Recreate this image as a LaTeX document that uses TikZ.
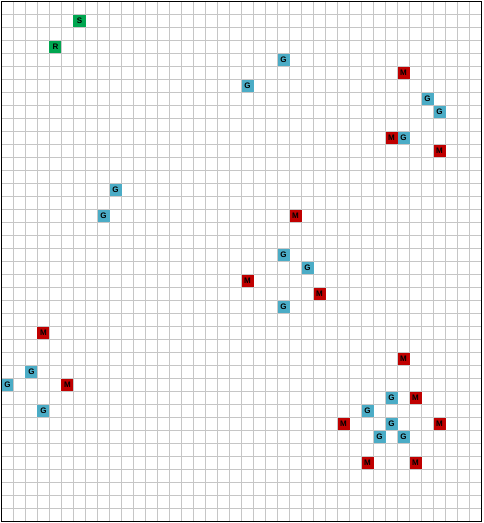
\documentclass[tikz,border=0pt]{standalone}
\usepackage{fontspec}
\setmainfont{Liberation Sans}
\usepackage{tikz}
\definecolor{cellGreen}{RGB}{0,166,80}
\definecolor{cellBlue}{RGB}{75,172,198}
\definecolor{cellRed}{RGB}{192,0,0}
\tikzset{
    cellMark/.style={
        rectangle,
        inner sep=0pt,
        minimum width=12pt,
        minimum height=12.5pt,
        font=\fontsize{8}{8}\selectfont\bfseries
    },
    startCell/.style={cellMark, fill=cellGreen},
    goalCell/.style={cellMark, fill=cellBlue},
    mineCell/.style={cellMark, fill=cellRed}
}

\begin{document}
\begin{tikzpicture}[x=12pt, y=13pt]
            % Canvas
            \useasboundingbox (-1.5pt,-1.5pt) rectangle (481.5pt,521.5pt);
            \fill[white] (-1.5pt,-1.5pt) rectangle (481.5pt,521.5pt);
            
            % Grid
            \draw[gray!45, line width=0.6pt, xstep=12pt, ystep=13pt] (0,0) grid (40,40);
            
            % Start and robot
            \node[startCell] (S) at (6.5,38.5) {S};
            \node[startCell] (R) at (4.5,36.5) {R};
            
            % Upper right
            \node[goalCell] (G1) at (23.5,35.5) {G};
            \node[mineCell] (M1) at (33.5,34.5) {M};
            \node[goalCell] (G2) at (20.5,33.5) {G};
            \node[goalCell] (G3) at (35.5,32.5) {G};
            \node[goalCell] (G4) at (36.5,31.5) {G};
            \node[mineCell] (M2) at (32.5,29.5) {M};
            \node[goalCell] (G5) at (33.5,29.5) {G};
            \node[mineCell] (M3) at (36.5,28.5) {M};
            
            % Middle
            \node[goalCell] (G6) at (9.5,25.5) {G};
            \node[goalCell] (G7) at (8.5,23.5) {G};
            \node[mineCell] (M4) at (24.5,23.5) {M};
            \node[goalCell] (G8) at (23.5,20.5) {G};
            \node[goalCell] (G9) at (25.5,19.5) {G};
            \node[mineCell] (M5) at (20.5,18.5) {M};
            \node[mineCell] (M6) at (26.5,17.5) {M};
            \node[goalCell] (G10) at (23.5,16.5) {G};
            
            % Lower left
            \node[mineCell] (M7) at (3.5,14.5) {M};
            \node[goalCell] (G11) at (2.5,11.5) {G};
            \node[goalCell] (G12) at (0.5,10.5) {G};
            \node[mineCell] (M8) at (5.5,10.5) {M};
            \node[goalCell] (G13) at (3.5,8.5) {G};
            
            % Lower right
            \node[mineCell] (M9) at (33.5,12.5) {M};
            \node[goalCell] (G14) at (32.5,9.5) {G};
            \node[mineCell] (M10) at (34.5,9.5) {M};
            \node[goalCell] (G15) at (30.5,8.5) {G};
            \node[mineCell] (M11) at (28.5,7.5) {M};
            \node[goalCell] (G16) at (32.5,7.5) {G};
            \node[mineCell] (M12) at (36.5,7.5) {M};
            \node[goalCell] (G17) at (31.5,6.5) {G};
            \node[goalCell] (G18) at (33.5,6.5) {G};
            \node[mineCell] (M13) at (30.5,4.5) {M};
            \node[mineCell] (M14) at (34.5,4.5) {M};
            
            % Border
            \draw[black, line width=1.5pt] (0,0) rectangle (40,40);
        \end{tikzpicture}
\end{document}
